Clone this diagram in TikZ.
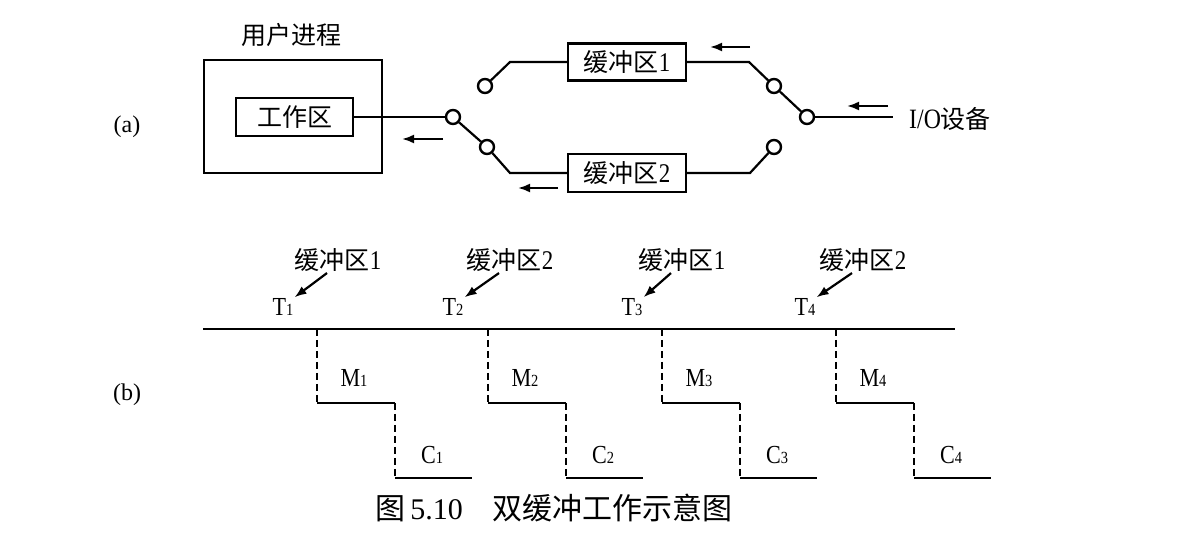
\documentclass[tikz,border=0pt]{standalone}
\usepackage{fontspec}
\setmainfont{Liberation Serif}
\newfontfamily\cjk{Noto Sans CJK SC}
\newfontfamily\lat[FakeStretch=0.85]{Liberation Serif}
\usetikzlibrary{arrows.meta}
\begin{document}
\begin{tikzpicture}[x=1pt,y=-1pt,
  ln/.style={line width=2.2pt},
  boxnode/.style={draw,line width=2.4pt,inner sep=0pt,font=\fontsize{25}{30}\selectfont\cjk},
  sw/.style={circle,draw,fill=white,line width=2.4pt,minimum size=14pt,inner sep=0pt},
  flow/.style={line width=2.2pt,-{Latex[length=12pt,width=9pt]}},
  zh/.style={font=\fontsize{25}{30}\selectfont\cjk},
  lab/.style={font=\fontsize{24}{28}\selectfont\rmfamily},
  sym/.style={inner sep=1pt,font=\fontsize{26}{28}\selectfont\lat},
  dsh/.style={line width=2.2pt,dash pattern=on 7pt off 4pt},
]
\useasboundingbox (0,0) rectangle (1187,534);

% ---------- (a) ----------
\node[lab] (la) at (127,127) {(a)};
\node[zh] (title) at (291,35) {用户进程};
\node[draw,line width=2.4pt,minimum width=178pt,minimum height=113pt] (proc) at (293,116.5) {};
\node[boxnode,minimum width=117pt,minimum height=38pt] (work) at (294.5,117) {工作区};
\node[boxnode,minimum width=118pt,minimum height=37pt] (buf1) at (627,62) {缓冲区{\lat\fontsize{27}{30}\selectfont 1}};
\node[boxnode,minimum width=118pt,minimum height=38pt] (buf2) at (627,173) {缓冲区{\lat\fontsize{27}{30}\selectfont 2}};

\node[sw] (pa) at (453,117) {};
\node[sw] (pb) at (487,147) {};
\node[sw] (pc) at (485,86) {};
\node[sw] (pd) at (807,117) {};
\node[sw] (pe) at (774,86) {};
\node[sw] (pf) at (774,147) {};
\coordinate (c1) at (510,62);
\coordinate (c2) at (510,173);
\coordinate (c3) at (749,62);
\coordinate (c4) at (750,173);
\node[anchor=west,inner sep=0pt,font=\fontsize{25}{30}\selectfont] (io) at (909,119) {{\lat\fontsize{28}{30}\selectfont I/O}{\cjk 设备}};
\coordinate (ioend) at (893,117);

\draw[ln] (work.east) -- (pa);
\draw[ln] (pa) -- (pb);
\draw[ln] (pb) -- (c2) -- (buf2.west);
\draw[ln] (pc) -- (c1) -- (buf1.west);
\draw[ln] (buf1.east) -- (c3) -- (pe);
\draw[ln] (pe) -- (pd);
\draw[ln] (buf2.east) -- (c4) -- (pf);
\draw[ln] (pd) -- (ioend);

\coordinate (f1s) at (443,139); \coordinate (f1e) at (402,139);
\coordinate (f2s) at (750,47);  \coordinate (f2e) at (710,47);
\coordinate (f3s) at (558,188); \coordinate (f3e) at (518,188);
\coordinate (f4s) at (888,106); \coordinate (f4e) at (847,106);
\draw[flow] (f1s) -- (f1e);
\draw[flow] (f2s) -- (f2e);
\draw[flow] (f3s) -- (f3e);
\draw[flow] (f4s) -- (f4e);

% ---------- (b) ----------
\node[lab] (lb) at (127,395) {(b)};
\coordinate (tl0) at (203,329);
\coordinate (tl1) at (955,329);
\draw[ln] (tl0) -- (tl1);

\foreach \i/\x/\tx/\bx/\bn in {1/317/283/338/1, 2/488/453/510/2, 3/662/632/682/1, 4/836/805/863/2}{
  \coordinate (top\i) at (\x,329);
  \coordinate (mid\i) at (\x,403);
  \coordinate (midr\i) at ({\x+78},403);
  \coordinate (bot\i) at ({\x+78},478);
  \coordinate (botr\i) at ({\x+155},478);
  \draw[dsh] (top\i) -- (mid\i);
  \draw[ln] (mid\i) -- (midr\i);
  \draw[dsh] (midr\i) -- (bot\i);
  \draw[ln] (bot\i) -- (botr\i);
  \node[sym] (M\i) at ({\x+37},378) {M{\fontsize{17}{17}\selectfont\i}};
  \node[sym] (C\i) at ({\x+115},455) {C{\fontsize{17}{17}\selectfont\i}};
  \node[sym] (T\i) at (\tx,307) {T{\fontsize{17}{17}\selectfont\i}};
  \node[zh] (B\i) at (\bx,260) {缓冲区{\lat\fontsize{27}{30}\selectfont\bn}};
  \draw[flow] ([xshift=-11pt,yshift=2pt]B\i.south) -- (T\i.north east);
}

\node[font=\fontsize{30}{34}\selectfont] (cap) at (554,508) {{\cjk 图}\,5.10\hspace{30pt}{\cjk 双缓冲工作示意图}};
\end{tikzpicture}
\end{document}
